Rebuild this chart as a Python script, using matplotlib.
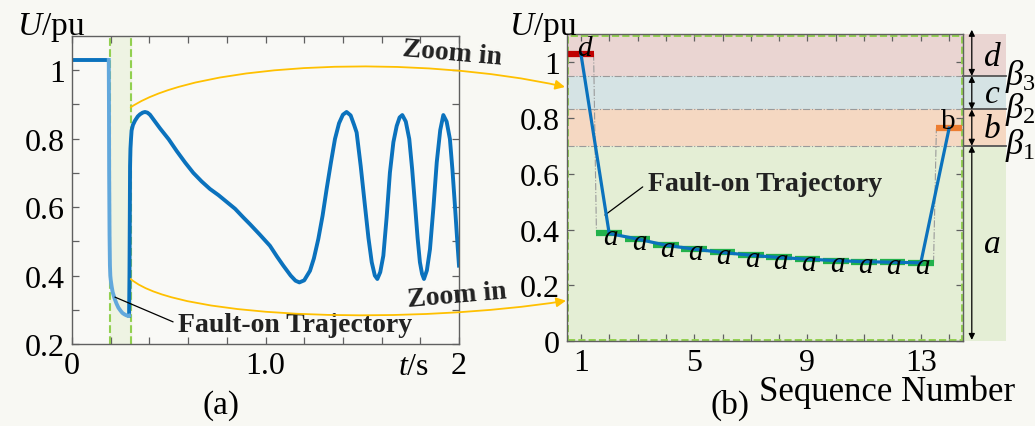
import numpy as np
import matplotlib.pyplot as plt
from matplotlib.patches import Rectangle, FancyArrowPatch
from matplotlib.path import Path

plt.rcParams['font.family'] = ['Liberation Serif', 'DejaVu Serif']
plt.rcParams['mathtext.fontset'] = 'custom'
plt.rcParams['mathtext.rm'] = 'Liberation Serif'
plt.rcParams['mathtext.it'] = 'Liberation Serif:italic'
plt.rcParams['mathtext.bf'] = 'Liberation Serif:bold'

############################################
### data (a): voltage vs time ###
############################################
t_pre = [0.0, 0.19]
u_pre = [1.03, 1.03]

t_fault = [0.190, 0.191, 0.192, 0.194, 0.196, 0.198, 0.200, 0.205, 0.210, 0.220,
           0.230, 0.240, 0.250, 0.260, 0.270, 0.280, 0.290, 0.295]
u_fault = [1.03, 0.90, 0.70, 0.52, 0.43, 0.40, 0.388, 0.368, 0.352, 0.333,
           0.318, 0.306, 0.298, 0.291, 0.287, 0.284, 0.282, 0.283]

t_post = [0.295, 0.297, 0.299, 0.300, 0.302, 0.305, 0.308, 0.315, 0.326, 0.340,
          0.351, 0.365, 0.377, 0.390, 0.403, 0.425, 0.455, 0.50, 0.541, 0.585,
          0.627, 0.670, 0.713, 0.757, 0.80, 0.843, 0.885, 0.92, 0.97, 1.023,
          1.06, 1.092, 1.13, 1.155, 1.175, 1.20, 1.23, 1.25, 1.273, 1.295,
          1.316, 1.338, 1.359, 1.38, 1.40, 1.419, 1.44, 1.458, 1.471, 1.492,
          1.514, 1.532, 1.549, 1.565, 1.578, 1.593, 1.609, 1.626, 1.643, 1.661,
          1.678, 1.693, 1.707, 1.725, 1.743, 1.758, 1.773, 1.786, 1.798, 1.809,
          1.819, 1.834, 1.85, 1.868, 1.885, 1.903, 1.919, 1.936, 1.953, 1.966,
          1.979, 1.99, 2.0]
u_post = [0.283, 0.40, 0.60, 0.72, 0.77, 0.80, 0.824, 0.840, 0.853, 0.865,
          0.871, 0.876, 0.878, 0.876, 0.870, 0.853, 0.830, 0.798, 0.764, 0.730,
          0.700, 0.675, 0.653, 0.635, 0.615, 0.595, 0.570, 0.550, 0.520, 0.487,
          0.455, 0.429, 0.400, 0.385, 0.380, 0.386, 0.414, 0.450, 0.507, 0.575,
          0.653, 0.730, 0.799, 0.845, 0.870, 0.878, 0.868, 0.840, 0.818, 0.720,
          0.604, 0.510, 0.439, 0.400, 0.390, 0.410, 0.458, 0.570, 0.701, 0.790,
          0.837, 0.862, 0.869, 0.850, 0.799, 0.710, 0.604, 0.510, 0.439, 0.405,
          0.390, 0.415, 0.477, 0.600, 0.731, 0.825, 0.869, 0.850, 0.799, 0.710,
          0.604, 0.510, 0.429]

fault_start = 0.195
fault_end = 0.303

############################################
### data (b): sampled sequence ###
############################################
seq = list(range(1, 15))
u_seq = [1.03, 0.386, 0.366, 0.344, 0.330, 0.318, 0.308, 0.300, 0.294, 0.289,
         0.285, 0.283, 0.281, 0.763]
state = ['d'] + ['a'] * 12 + ['b']
beta = [0.70, 0.83, 0.95]
band_names = ['a', 'b', 'c', 'd']

blue = '#0b72bd'
light_blue = '#62a8dc'
green_dash = '#92d050'
state_color = {'d': '#c00000', 'a': '#22b14c', 'b': '#ed7d31'}
band_color = {'a': '#e4eed5', 'b': '#f5d8c2', 'c': '#d5e3e4', 'd': '#ead5d2'}
W, H = 1035, 427

fig = plt.figure(figsize=(W / 100, H / 100), dpi=100, facecolor='#f8f8f3')

### plot (a)
ax1 = fig.add_axes([72 / W, 1 - 345 / H, 387 / W, 308 / H])
ax1.set_facecolor('#f9f9f6')
ax1.axvspan(fault_start, fault_end, color='#eef3e3', zorder=0)
ax1.axvline(fault_start, color=green_dash, ls='--', lw=1.5)
ax1.axvline(fault_end, color=green_dash, ls='--', lw=1.5)
ax1.plot(t_pre, u_pre, color=blue, lw=2.8, solid_capstyle='butt')
ax1.plot(t_post, u_post, color=blue, lw=2.8)
ax1.plot(t_fault, u_fault, color=light_blue, lw=2.8)
ax1.set_xlim(0, 2)
ax1.set_ylim(0.2, 1.1)
ax1.set_xticks([0, 1, 2])
ax1.set_xticklabels(['0', '1.0', '2'])
ax1.set_xticks(np.arange(0.2, 2.0, 0.2), minor=True)
ax1.set_yticks([0.2, 0.4, 0.6, 0.8, 1.0])
ax1.set_yticklabels(['0.2', '0.4', '0.6', '0.8', '1'])
ax1.set_yticks(np.arange(0.3, 1.1, 0.2), minor=True)
ax1.annotate('Fault-on Trajectory', xy=(0.222, 0.337), xytext=(0.55, 0.258),
             fontsize=20, fontweight='bold', color='#222222', ha='left', va='center',
             arrowprops=dict(arrowstyle='-', color='black', lw=0.9, relpos=(0, 0.5),
                             shrinkA=2, shrinkB=0))

### plot (b)
ax2 = fig.add_axes([566.7 / W, 1 - 342.3 / H, 396.6 / W, 307.3 / H])
ax2.set_facecolor('#f9f9f6')
ax2.set_xlim(0.5, 14.5)
ax2.set_ylim(0, 1.1)
levels = [0.0] + beta + [1.1]
for i, name in enumerate(band_names):
    ax2.add_patch(Rectangle((0.5, levels[i]), 15.5, levels[i + 1] - levels[i],
                            facecolor=band_color[name], edgecolor='none',
                            clip_on=False, zorder=0))
for b in beta:
    ax2.plot([0.5, 14.5], [b, b], color='#9a9a9a', ls='-.', lw=0.8, zorder=1)
    ax2.plot([14.5, 16.0], [b, b], color='#555555', lw=1.3, clip_on=False, zorder=1)
ax2.add_patch(Rectangle((0.004, 0.004), 0.992, 0.99, transform=ax2.transAxes,
                        fill=False, edgecolor=green_dash, ls='--', lw=1.4,
                        clip_on=False, zorder=2))

# step segments and connectors
for i in range(len(seq)):
    ax2.plot([seq[i] - 0.45, seq[i] + 0.45], [u_seq[i], u_seq[i]],
             color=state_color[state[i]], lw=4.5, solid_capstyle='butt', zorder=3)
    if i < len(seq) - 1 and state[i] != state[i + 1]:
        ax2.plot([seq[i] + 0.45, seq[i + 1] - 0.45], [u_seq[i], u_seq[i + 1]],
                 color='#9a9a9a', ls='-.', lw=0.8, zorder=2)
ax2.plot(seq, u_seq, color=blue, lw=2.3, zorder=4)
for i in range(len(seq)):
    if state[i] == 'a':
        ax2.text(seq[i] + 0.05, u_seq[i] - 0.012, 'a', style='italic', fontsize=21,
                 ha='center', va='center', zorder=5)
ax2.text(seq[0] + 0.12, u_seq[0] + 0.02, 'd', style='italic', fontsize=21,
         ha='center', va='center', zorder=5)
ax2.text(seq[-1] - 0.04, u_seq[-1] + 0.027, 'b', fontsize=21,
         ha='center', va='center', zorder=5)

# band arrows and labels
arrow_levels = [0.005] + beta + [1.115]
for i, name in enumerate(band_names):
    ax2.annotate('', xy=(14.8, arrow_levels[i]), xytext=(14.8, arrow_levels[i + 1]),
                 xycoords='data', annotation_clip=False,
                 arrowprops=dict(arrowstyle='<|-|>', color='black', lw=0.9,
                                 mutation_scale=9, shrinkA=0, shrinkB=0))
    ax2.text(15.53, (levels[i] + levels[i + 1]) / 2 - (0.005 if name != 'a' else -0.0),
             name, style='italic', fontsize=24, ha='center', va='center', clip_on=False)
for k, b in enumerate(beta):
    ax2.text(15.98, b + 0.003, r'$\beta_{%d}$' % (k + 1), fontsize=25, ha='left',
             va='center', clip_on=False)

ax2.annotate('Fault-on Trajectory', xy=(1.85, 0.452), xytext=(3.36, 0.566),
             fontsize=20, fontweight='bold', color='#222222', ha='left', va='center',
             arrowprops=dict(arrowstyle='-', color='black', lw=0.9, relpos=(0, 0.5),
                             shrinkA=2, shrinkB=0))

ax2.set_xticks(seq)
ax2.set_xticklabels([str(s) if s in (1, 5, 9, 13) else '' for s in seq])
ax2.set_yticks([0, 0.2, 0.4, 0.6, 0.8, 1.0])
ax2.set_yticklabels(['0', '0.2', '0.4', '0.6', '0.8', '1'])

for ax in (ax1, ax2):
    for sp in ax.spines.values():
        sp.set_color('#606060')
        sp.set_linewidth(1.0)
        sp.set_zorder(6)
    ax.tick_params(which='both', direction='in', top=True, right=True,
                   length=5, width=0.9, color='#606060', labelsize=23, pad=5)

############################################
### overlay: zoom arrows and labels (pixel coords) ###
############################################
ov = fig.add_axes([0, 0, 1, 1], zorder=10)
ov.set_xlim(0, W)
ov.set_ylim(H, 0)
ov.axis('off')

codes = [Path.MOVETO, Path.CURVE4, Path.CURVE4, Path.CURVE4]
top_path = Path([(130.7, 108.3), (200, 62), (420, 55), (565, 88)], codes)
bot_path = Path([(130.7, 280), (180, 322), (420, 325), (566, 301.7)], codes)
for p in (top_path, bot_path):
    ov.add_patch(FancyArrowPatch(path=p, arrowstyle='-|>', mutation_scale=14,
                                 color='#ffc000', lw=1.3))
ov.text(452, 54, 'Zoom in', fontsize=20, fontweight='bold', color='#222222',
        rotation=-5, ha='center', va='center')
ov.text(457, 296, 'Zoom in', fontsize=20, fontweight='bold', color='#222222',
        rotation=5, ha='center', va='center')

ov.text(51, 35, '$U$/pu', fontsize=24, ha='center', va='baseline')
ov.text(543, 35, '$U$/pu', fontsize=24, ha='center', va='baseline')
ov.text(414, 368, '$t$/s', fontsize=23, ha='center', va='center')
ov.text(221, 414, '(a)', fontsize=24, ha='center', va='baseline')
ov.text(730, 414, '(b)', fontsize=24, ha='center', va='baseline')
ov.text(887, 401, 'Sequence Number', fontsize=25, ha='center', va='baseline')

plt.savefig('out.png', dpi=100, facecolor=fig.get_facecolor())
plt.close()
